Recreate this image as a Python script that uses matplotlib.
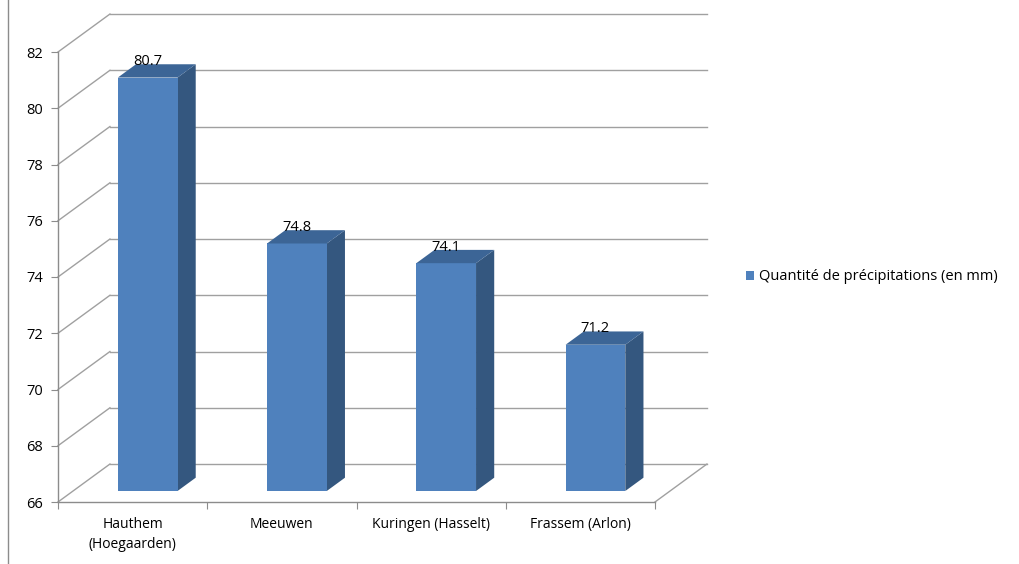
import matplotlib.pyplot as plt
from matplotlib.patches import Polygon, Patch
from matplotlib.lines import Line2D

plt.rcParams['font.family'] = ['Open Sans', 'DejaVu Sans']

# Data
stations = ['Hauthem\n(Hoegaarden)', 'Meeuwen', 'Kuringen (Hasselt)', 'Frassem (Arlon)']
precip = [80.7, 74.8, 74.1, 71.2]
yticks = [66, 68, 70, 72, 74, 76, 78, 80, 82]
series_name = 'Quantité de précipitations (en mm)'

front_col = '#4f81bd'
top_col = '#3c6596'
side_col = '#34577f'
grid_col = '#a0a0a0'

fig = plt.figure(figsize=(10.19, 5.64), dpi=100)
ax = fig.add_axes([58 / 1019, 62 / 564, 597 / 1019, 450 / 564])
ax.set_xlim(-0.5, 3.5)
ax.set_ylim(66, 82)
ax.patch.set_alpha(0)

# depth of the 3D box in data units
dx, dy = 0.348, 1.35
x0, x1 = -0.5, 3.5

# back wall gridlines + side wall diagonals
for v in yticks:
    ax.plot([x0 + dx, x1 + dx], [v + dy, v + dy], color=grid_col, lw=1.0, zorder=1, clip_on=False)
    ax.plot([x0, x0 + dx], [v, v + dy], color=grid_col, lw=1.0, zorder=1, clip_on=False)
# floor right edge
ax.plot([x1, x1 + dx], [66, 66 + dy], color=grid_col, lw=1.0, zorder=1, clip_on=False)

# bars
w = 0.4
f0, f1 = 0.29, 0.64
for i, v in enumerate(precip):
    xl = i - w / 2 + f0 * dx
    xr = i + w / 2 + f0 * dx
    yb = 66 + f0 * dy
    yt = v + f0 * dy
    ddx = (f1 - f0) * dx
    ddy = (f1 - f0) * dy
    side = Polygon([(xr, yb), (xr + ddx, yb + ddy), (xr + ddx, yt + ddy), (xr, yt)],
                   closed=True, facecolor=side_col, edgecolor='none', zorder=3, clip_on=False)
    front = Polygon([(xl, yb), (xr, yb), (xr, yt), (xl, yt)],
                    closed=True, facecolor=front_col, edgecolor='none', zorder=4, clip_on=False)
    top = Polygon([(xl, yt), (xr, yt), (xr + ddx, yt + ddy), (xl + ddx, yt + ddy)],
                  closed=True, facecolor=top_col, edgecolor='none', zorder=4, clip_on=False)
    for p in (side, front, top):
        ax.add_patch(p)
    ax.text(i + f0 * dx, yt + 0.3, f'{v}', ha='center', va='bottom', fontsize=10.5,
            color='black', zorder=6)

# axes styling
for s in ['top', 'right']:
    ax.spines[s].set_visible(False)
for s in ['left', 'bottom']:
    ax.spines[s].set_color('#8c8c8c')
    ax.spines[s].set_linewidth(1.0)

ax.set_yticks(yticks)
ax.set_yticklabels([str(t) for t in yticks], fontsize=10.5)
ax.tick_params(axis='y', direction='out', length=5, color='#8c8c8c', pad=6)

ax.set_xticks([-0.5, 0.5, 1.5, 2.5, 3.5])
ax.set_xticklabels([])
ax.tick_params(axis='x', which='major', direction='out', length=5, color='#8c8c8c')
ax.set_xticks(range(len(stations)), minor=True)
ax.set_xticklabels(stations, minor=True, fontsize=10, linespacing=1.45)
ax.tick_params(axis='x', which='minor', length=0, pad=11)

# legend
ax.legend(handles=[Patch(facecolor=front_col, edgecolor='none', label=series_name)],
          loc='center left', bbox_to_anchor=(733 / 1019, 1 - 277 / 564),
          bbox_transform=fig.transFigure, frameon=False, fontsize=10.5,
          handlelength=0.55, handleheight=0.55, handletextpad=0.35)

# left border of the chart area
fig.add_artist(Line2D([8 / 1019, 8 / 1019], [0, 1], color='#8c8c8c', lw=1.0))

fig.savefig('out.png', dpi=100)
